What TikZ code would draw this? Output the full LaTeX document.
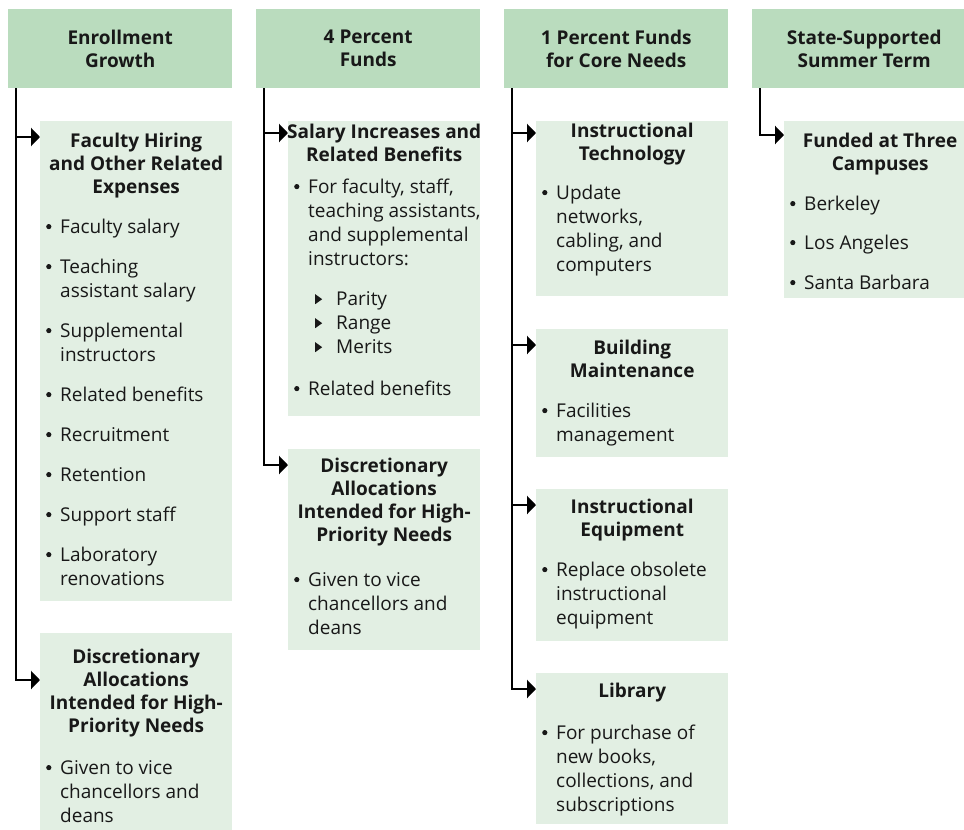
\documentclass[tikz,border=0pt]{standalone}
\usepackage{fontspec}
\setmainfont{Open Sans}
\usetikzlibrary{arrows.meta}

\definecolor{headgreen}{RGB}{186,220,190}
\definecolor{boxgreen}{RGB}{226,239,227}
\definecolor{ink}{RGB}{24,24,24}

\newcommand{\dotmark}{\raisebox{4pt}{\tikz\fill (0,0) circle (2.6pt);}}
\newcommand{\trimark}{\raisebox{1pt}{\tikz\fill (0,0)--(0,10pt)--(7pt,5pt)--cycle;}}
\newcommand{\panel}[3]{\parbox[c][#1][t]{184pt}{\raggedright\parskip=0pt
  \fontsize{19}{24}\selectfont\vspace*{\dimexpr#2-15pt\relax}#3\par}}
\newcommand{\ttl}[1]{{\centering\leftskip=-8pt plus 1fil\rightskip=-8pt plus 1fil
  \bfseries\fontsize{19}{23}\selectfont\rule{0pt}{15pt}#1\par}}
\newcommand{\itm}[2][16pt]{\par\vspace{#1}{\let\\\newline\rightskip=-12pt plus 2em
  \hangindent=16pt\hangafter=1\noindent\makebox[16pt][l]{\hspace{2pt}\dotmark}#2\par}}
\newcommand{\subitm}[2][0pt]{\par\vspace{#1}{\let\\\newline\rightskip=-12pt plus 2em
  \hangindent=44pt\hangafter=1\noindent\makebox[44pt][l]{\hspace{23pt}\trimark}#2\par}}

\begin{document}
\begin{tikzpicture}[x=1pt,y=-1pt,
  head/.style={anchor=north west,fill=headgreen,minimum width=224pt,minimum height=79pt,
    inner sep=0pt,align=center,text=ink,font=\bfseries\fontsize{19}{23}\selectfont},
  card/.style={anchor=north west,fill=boxgreen,inner xsep=4pt,inner ysep=0pt,text=ink},
  link/.style={line width=2.6pt,-{Triangle[length=9pt,width=18pt]}}]
\useasboundingbox (0,0) rectangle (964,830);

\node[head] (enroll) at (8,9) {Enrollment\\Growth};
\node[head] (four) at (256,9) {4 Percent\\Funds};
\node[head] (one) at (504,9) {1 Percent Funds\\for Core Needs};
\node[head] (summer) at (752,9) {State-Supported\\Summer Term};

\node[card] (faculty) at (40,121) {\panel{480pt}{26pt}{%
\ttl{Faculty Hiring\\and Other Related\\Expenses}
\itm{Faculty salary}
\itm{Teaching\\assistant salary}
\itm{Supplemental\\instructors}
\itm{Related benefits}
\itm{Recruitment}
\itm{Retention}
\itm{Support staff}
\itm{Laboratory\\renovations}}};
\node[card] (alloc1) at (40,633) {\panel{197pt}{30pt}{%
\ttl{Discretionary\\Allocations\\Intended for High-\\Priority Needs}
\itm[18pt]{Given to vice\\chancellors and\\deans}}};

\node[card] (salary) at (288,121) {\panel{295pt}{17pt}{%
\ttl{Salary Increases and\\Related Benefits}
\itm[8pt]{For faculty, staff,\\teaching assistants,\\and supplemental\\instructors:}
\subitm[16pt]{Parity}
\subitm{Range}
\subitm{Merits}
\itm[18pt]{Related benefits}}};
\node[card] (alloc2) at (288,449) {\panel{201pt}{23pt}{%
\ttl{Discretionary\\Allocations\\Intended for High-\\Priority Needs}
\itm[21pt]{Given to vice\\chancellors and\\deans}}};

\node[card] (tech) at (536,121) {\panel{175pt}{16pt}{%
\ttl{Instructional\\Technology}
\itm[15pt]{Update\\networks,\\cabling, and\\computers}}};
\node[card] (build) at (536,329) {\panel{128pt}{25pt}{%
\ttl{Building\\Maintenance}
\itm{Facilities\\management}}};
\node[card] (equip) at (536,489) {\panel{152pt}{24pt}{%
\ttl{Instructional\\Equipment}
\itm{Replace obsolete\\instructional\\equipment}}};
\node[card] (library) at (536,673) {\panel{151pt}{24pt}{%
\ttl{Library}
\itm[18pt]{For purchase of\\new books,\\collections, and\\subscriptions}}};

\node[card] (funded) at (784,121) {\panel{177pt}{26pt}{%
\ttl{Funded at Three\\Campuses}
\itm{Berkeley}
\itm[15pt]{Los Angeles}
\itm{Santa Barbara}}};

\draw[link] ([xshift=8pt]enroll.south west) |- ([yshift=-16pt]faculty.north west);
\draw[link] ([xshift=8pt]enroll.south west) |- ([yshift=-47pt]alloc1.north west);
\draw[link] ([xshift=8pt]four.south west) |- ([yshift=-12pt]salary.north west);
\draw[link] ([xshift=8pt]four.south west) |- ([yshift=-16pt]alloc2.north west);
\draw[link] ([xshift=8pt]one.south west) |- ([yshift=-12pt]tech.north west);
\draw[link] ([xshift=8pt]one.south west) |- ([yshift=-16pt]build.north west);
\draw[link] ([xshift=8pt]one.south west) |- ([yshift=-16pt]equip.north west);
\draw[link] ([xshift=8pt]one.south west) |- ([yshift=-16pt]library.north west);
\draw[link] ([xshift=8pt]summer.south west) |- ([yshift=-14pt]funded.north west);
\end{tikzpicture}
\end{document}
